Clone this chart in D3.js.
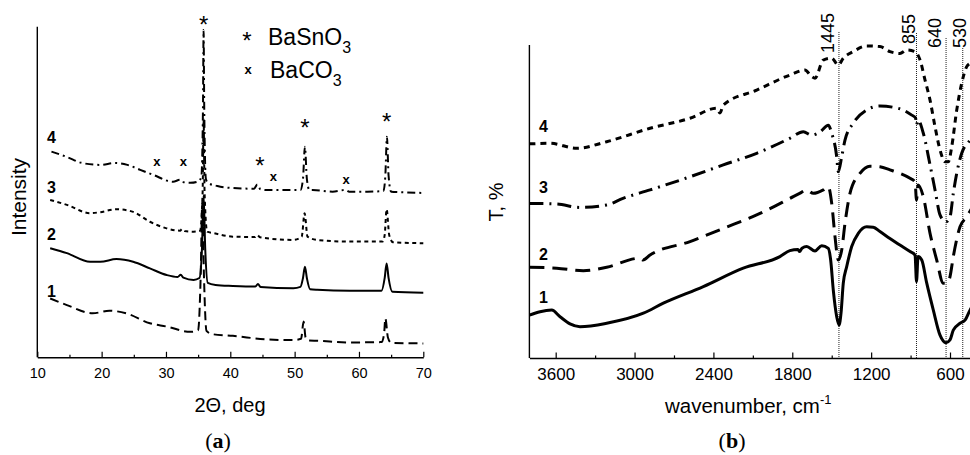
<!DOCTYPE html>
<html><head><meta charset="utf-8">
<script src="https://cdn.jsdelivr.net/npm/d3@7"></script>
<style>
body{margin:0;background:#fff}
svg{display:block}
text{font-family:"Liberation Sans",Arial,sans-serif;fill:#000}
</style>
</head><body>
<svg id="chart" width="970" height="455"></svg>
<script>
// ---------- Panel (a): XRD ----------
const xrdTicks = [10, 20, 30, 40, 50, 60, 70];
const xrdMinor = [15, 25, 35, 45, 55, 65];
// [2theta, intensity (a.u.)]
const xrd1 = [[12.0,17.8],[14.6,15.8],[18.6,13.3],[21.2,14.1],[23.8,13.3],[27.5,10.3],[30.1,9.3],[33.8,7.7],[35.0,8.2],[35.4,25],[35.65,47],[35.9,25],[36.3,8],[37.2,7.0],[40.4,6.5],[45.7,5.4],[49.8,5.2],[51.0,5.6],[51.4,10.8],[51.7,6],[52.2,5.1],[53.5,5.0],[58.6,4.5],[63.5,4.6],[63.9,7],[64.1,11.8],[64.5,6],[65,4.4],[70,4.2]];
const xrd2 = [[12.0,33.0],[14.6,31.5],[18.2,28.9],[19.8,28.9],[22.3,29.7],[24.9,28.9],[27.5,26.9],[30.1,24.9],[31.8,24.3],[32.3,25.0],[32.7,24.1],[34.3,23.4],[35.2,24.0],[35.6,33],[35.85,49],[36.1,33],[36.5,22.5],[37.7,21.9],[40.4,21.6],[43.9,21.4],[44.3,22.2],[44.7,21.3],[49.8,20.9],[50.9,21.3],[51.3,24],[51.6,27.4],[51.9,24],[52.4,20.6],[53.5,20.4],[58.6,20.1],[63.5,20.1],[64.0,24],[64.3,28.4],[64.6,24],[65.2,19.8],[70,19.5]];
const xrd3 = [[12.0,47.6],[14.6,46.1],[18.2,43.6],[19.8,43.9],[22.3,44.8],[24.9,44.0],[27.5,41.0],[30.1,39.0],[32.2,38.3],[32.5,38.8],[32.9,38.2],[34.3,38.0],[35.3,38.3],[35.7,50],[35.85,72],[36.0,50],[36.4,38],[37.3,37.6],[40.4,36.5],[43.8,36.4],[44.2,37.0],[44.6,36.3],[49.8,35.5],[51.1,36.5],[51.55,43.6],[52.0,36.5],[53.5,35.5],[58.6,35.0],[63.7,35.0],[64.0,37],[64.3,44.8],[64.7,37],[65.3,34.8],[70,34.5]];
const xrd4 = [[12.2,62.2],[14.6,60.6],[16.9,58.8],[19.8,58.2],[22.1,58.8],[24.0,58.2],[26.0,56.7],[28.0,55.2],[31.1,53.1],[32.2,53.7],[32.6,53.0],[33.8,52.8],[35.0,53.2],[35.5,54.5],[35.75,75],[35.85,99],[35.95,75],[36.2,54],[36.5,52.8],[38,51.8],[40.4,51.2],[43.7,51.0],[44.2,52.3],[44.7,50.8],[45.7,50.6],[48,50.6],[50.9,50.6],[51.3,54],[51.6,63.7],[51.9,54],[52.3,50.6],[52.8,50.6],[55.9,50.1],[57.9,50.6],[58.5,50.1],[61.3,50.1],[63.8,50.3],[64.1,55],[64.35,66.7],[64.6,55],[65,50.1],[67,49.9],[70,49.7]];
const xrdLabels = [["1",11.5,18.2],["2",11.5,35.5],["3",11.5,49.7],["4",11.5,64.8]];
const starMarks = [[35.85,102.3],[44.6,59.7],[51.6,71.2],[64.3,73.0]];
const crossMarks = [[28.6,59.1],[32.7,59.1],[46.7,54.5],[58.0,53.6]];

// ---------- Panel (b): IR ----------
const irTicks = [3600, 3000, 2400, 1800, 1200, 600];
const irMinor = [3300, 2700, 2100, 1500, 900];
// [wavenumber, T (a.u.)]
const ir1 = [[3800,13.7],[3719,14.8],[3630,15.3],[3567,13.2],[3491,10.9],[3415,10.0],[3212,11.1],[2933,14.3],[2781,17.5],[2477,22.8],[2173,28.7],[1894,32.4],[1818,34.3],[1757,34.7],[1744,34.0],[1726,35.1],[1690,35.6],[1627,34.2],[1576,35.9],[1526,35.0],[1508,31.3],[1488,21.7],[1462,13.2],[1444,10.5],[1429,14.4],[1412,23.9],[1386,29.2],[1348,35.6],[1298,39.8],[1234,41.9],[1184,41.8],[1133,40.4],[1057,38.2],[981,36.1],[904,34.0],[866,32.9],[855,24.4],[843,32.4],[815,31.3],[777,23.9],[727,15.3],[676,7.3],[631,4.9],[600,5.8],[575,8.9],[524,11.1],[486,12.1],[448,15.3],[400,18.5]];
const ir2 = [[3800,29.0],[3592,28.7],[3390,27.9],[3212,29.0],[2959,31.9],[2936,31.3],[2882,32.9],[2578,37.2],[2325,41.4],[2071,45.7],[1818,51.0],[1744,52.6],[1690,53.7],[1640,52.6],[1564,53.7],[1526,54.7],[1500,49.4],[1475,38.8],[1450,31.3],[1424,34.5],[1399,43.0],[1361,52.6],[1285,59.0],[1209,61.3],[1133,61.1],[1057,60.1],[904,57.4],[866,56.3],[855,50.5],[843,55.3],[803,51.5],[752,39.8],[701,31.3],[651,23.9],[625,23.9],[600,26.0],[575,32.4],[524,41.9],[473,45.1],[400,50.5]];
const ir3 = [[3800,49.4],[3592,49.2],[3415,48.1],[3212,48.9],[3088,51.0],[2882,53.7],[2578,57.9],[2325,61.7],[2071,65.4],[1818,70.2],[1716,72.3],[1652,71.2],[1587,72.3],[1526,74.4],[1500,71.8],[1462,64.3],[1450,59.5],[1424,64.3],[1399,69.6],[1336,75.0],[1234,79.2],[1133,80.5],[1031,80.1],[955,79.2],[891,77.6],[862,76.7],[855,74.4],[843,76.0],[803,71.8],[752,61.7],[714,53.7],[676,45.7],[631,43.5],[600,45.1],[575,52.6],[549,59.0],[511,65.4],[448,69.6],[400,72.2]];
const ir4 = [[3800,68.4],[3643,68.6],[3440,67.0],[3212,69.1],[2882,73.4],[2578,76.6],[2375,79.8],[2350,78.3],[2325,80.8],[2071,85.6],[1818,90.4],[1704,92.0],[1652,89.9],[1627,89.4],[1564,95.2],[1500,95.8],[1450,93.6],[1412,95.8],[1336,97.9],[1234,99.7],[1133,99.5],[1057,97.9],[981,97.3],[930,98.4],[866,97.9],[828,95.2],[790,88.8],[752,82.4],[714,73.9],[676,66.5],[638,62.7],[613,62.7],[587,67.5],[549,79.2],[511,87.8],[473,93.1],[448,94.2],[400,95.8]];
const irLabels = [["1",3727,17.6],["2",3727,31.3],["3",3727,52.7],["4",3727,72.2]];
const bandLines = [1445, 855, 630, 503];
const bandLabels = ["1445", "855", "640", "530"];

// ---------- drawing ----------
const svg = d3.select("#chart");

const xA = d3.scaleLinear().domain([10, 70]).range([37.3, 423.3]);
const yA = d3.scaleLinear().domain([0, 100]).range([357.3, 26.7]);
const xB = d3.scaleLinear().domain([3800, 400]).range([529.4, 976.3]);
const yB = d3.scaleLinear().domain([0, 100]).range([358, 45]);

function drawAxes(g, x, y0, yTop, ticks, minor, fmt, fontSize) {
  const ax = g.append("g").attr("transform", `translate(0,${y0})`)
    .call(d3.axisBottom(x).tickValues(ticks).tickSizeInner(-5.5).tickSizeOuter(0).tickPadding(10).tickFormat(fmt));
  ax.select(".domain").attr("stroke", "#000").attr("stroke-width", 1.4);
  ax.selectAll(".tick line").attr("stroke", "#000").attr("stroke-width", 1.2);
  ax.selectAll(".tick text").attr("font-size", fontSize).attr("font-family", '"Liberation Sans",Arial,sans-serif').attr("fill", "#000");
  const mn = g.append("g").attr("transform", `translate(0,${y0})`)
    .call(d3.axisBottom(x).tickValues(minor).tickSizeInner(-2.6).tickSizeOuter(0).tickFormat(""));
  mn.select(".domain").remove();
  mn.selectAll(".tick line").attr("stroke", "#000").attr("stroke-width", 1.2);
  g.append("line").attr("x1", x.range()[0]).attr("x2", x.range()[0])
    .attr("y1", yTop).attr("y2", y0).attr("stroke", "#000").attr("stroke-width", 1.4);
}

const gA = svg.append("g");
drawAxes(gA, xA, 357.3, 26.7, xrdTicks, xrdMinor, d3.format("d"), 14.5);
const gB = svg.append("g");
drawAxes(gB, xB, 358, 45, irTicks, irMinor, d3.format("d"), 17);

function drawSeries(g, data, x, y, dash, width) {
  const line = d3.line().x(d => x(d[0])).y(d => y(d[1])).curve(d3.curveMonotoneX);
  g.append("path").datum(data).attr("d", line)
    .attr("fill", "none").attr("stroke", "#000").attr("stroke-width", width)
    .attr("stroke-dasharray", dash).attr("stroke-linejoin", "round");
}

drawSeries(gA, xrd1, xA, yA, "9,5", 2);
drawSeries(gA, xrd2, xA, yA, null, 2);
drawSeries(gA, xrd3, xA, yA, "4,3.5", 2);
drawSeries(gA, xrd4, xA, yA, "8,4,2,4", 2);

const bandTops = [32, 33, 38, 48];
const bandLabelDx = [-5, -1, -5, 3];
const bandLabelBottom = [53, 44, 48, 48];
bandLines.forEach((w, i) => {
  gB.append("line").attr("x1", xB(w)).attr("x2", xB(w))
    .attr("y1", bandTops[i]).attr("y2", 358)
    .attr("stroke", "#222").attr("stroke-width", 1).attr("stroke-dasharray", "1,1");
  gB.append("text")
    .attr("transform", `translate(${xB(w) + bandLabelDx[i]},${bandLabelBottom[i]}) rotate(-90)`)
    .attr("font-size", 18).attr("text-anchor", "start").text(bandLabels[i]);
});

drawSeries(gB, ir1, xB, yB, null, 3);
drawSeries(gB, ir2, xB, yB, "15,8", 3);
drawSeries(gB, ir3, xB, yB, "14,6,2,6", 3);
drawSeries(gB, ir4, xB, yB, "6,5", 3);

xrdLabels.forEach(d => gA.append("text").attr("x", xA(d[1])).attr("y", yA(d[2]))
  .attr("font-size", 16).attr("font-weight", "bold").text(d[0]));
irLabels.forEach(d => gB.append("text").attr("x", xB(d[1])).attr("y", yB(d[2]))
  .attr("font-size", 16).attr("font-weight", "bold").text(d[0]));

starMarks.forEach(d => gA.append("text").attr("x", xA(d[0])).attr("y", yA(d[1]) + 14)
  .attr("text-anchor", "middle").attr("font-size", 24).text("*"));
crossMarks.forEach(d => gA.append("text").attr("x", xA(d[0])).attr("y", yA(d[1]) + 4)
  .attr("text-anchor", "middle").attr("font-size", 13).attr("font-weight", "bold").text("x"));

const leg = gA.append("g");
leg.append("text").attr("x", 247).attr("y", 49).attr("text-anchor", "middle").attr("font-size", 24).text("*");
const t1 = leg.append("text").attr("x", 268).attr("y", 45).attr("font-size", 23);
t1.append("tspan").text("BaSnO");
t1.append("tspan").attr("font-size", 16).attr("dy", 8).text("3");
leg.append("text").attr("x", 248).attr("y", 74).attr("text-anchor", "middle").attr("font-size", 13).attr("font-weight", "bold").text("x");
const t2 = leg.append("text").attr("x", 270).attr("y", 78).attr("font-size", 23);
t2.append("tspan").text("BaCO");
t2.append("tspan").attr("font-size", 16).attr("dy", 8).text("3");

svg.append("text").attr("x", 230).attr("y", 412).attr("text-anchor", "middle").attr("font-size", 20).text("2Θ, deg");
svg.append("text").attr("transform", "translate(26,197) rotate(-90)").attr("text-anchor", "middle").attr("font-size", 21).text("Intensity");
const wt = svg.append("text").attr("x", 665).attr("y", 413).attr("font-size", 20.5);
wt.append("tspan").text("wavenumber, cm");
wt.append("tspan").attr("font-size", 13).attr("dy", -9).text("-1");
svg.append("text").attr("transform", "translate(503,202) rotate(-90)").attr("text-anchor", "middle").attr("font-size", 20).text("T, %");

function panelLetter(x, letter) {
  const t = svg.append("text").attr("x", x).attr("y", 448).attr("text-anchor", "middle")
    .attr("font-size", 22).style("font-family", '"Liberation Serif","Times New Roman",serif');
  t.append("tspan").text("(");
  t.append("tspan").attr("font-weight", "bold").text(letter);
  t.append("tspan").text(")");
}
panelLetter(218, "a");
panelLetter(732, "b");
</script>
</body></html>
